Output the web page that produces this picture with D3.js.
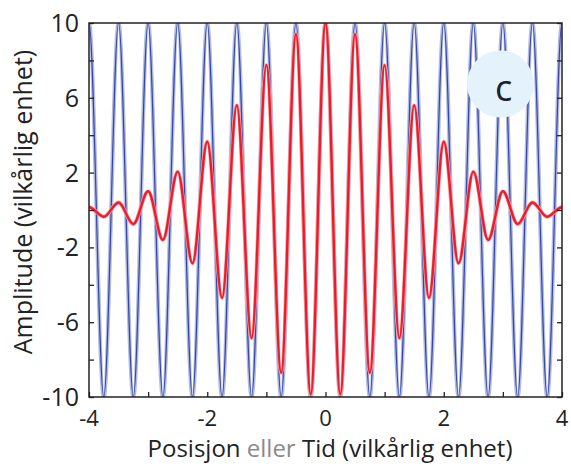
<!DOCTYPE html>
<html>
<head>
<meta charset="utf-8">
<script src="https://cdn.jsdelivr.net/npm/d3@7"></script>
<style>
  body { margin: 0; background: #fff; }
  text { font-family: "Open Sans", "Noto Sans", sans-serif; }
</style>
</head>
<body>
<div id="chart"></div>
<script>
// extrema of the two waves (points just past +-4 are clipped)
var waveX = [-4.25, -4, -3.75, -3.5, -3.25, -3, -2.75, -2.5, -2.25, -2, -1.75, -1.5, -1.25, -1, -0.75, -0.5, -0.25,
             0, 0.25, 0.5, 0.75, 1, 1.25, 1.5, 1.75, 2, 2.25, 2.5, 2.75, 3, 3.25, 3.5, 3.75, 4, 4.25];
var blueY = [-10, 10, -10, 10, -10, 10, -10, 10, -10, 10, -10, 10, -10, 10, -10, 10, -10,
             10, -10, 10, -10, 10, -10, 10, -10, 10, -10, 10, -10, 10, -10, 10, -10, 10, -10];
var redY  = [-0.1, 0.15, -0.36, 0.4, -0.75, 1.0, -1.6, 2.05, -2.85, 3.65, -4.7, 5.6, -6.85, 7.75, -8.7, 9.4, -9.85,
             10, -9.85, 9.4, -8.7, 7.75, -6.85, 5.6, -4.7, 3.65, -2.85, 2.05, -1.6, 1.0, -0.75, 0.4, -0.36, 0.15, -0.1];

var xTicks = [-4, -3, -2, -1, 0, 1, 2, 3, 4];
var xTickLabels = [-4, -2, 0, 2, 4];
var yTicks = [-10, -8, -6, -4, -2, 0, 2, 4, 6, 8, 10];
var yTickLabels = [10, 6, 2, -2, -6, -10];

var margin = {top: 23, right: 9, bottom: 69, left: 89},
    width = 571 - margin.left - margin.right,
    height = 466 - margin.top - margin.bottom;

var svg = d3.select("#chart")
  .append("svg")
    .attr("width", 571)
    .attr("height", 466)
  .append("g")
    .attr("transform", "translate(" + margin.left + "," + margin.top + ")");

var x = d3.scaleLinear().domain([-4, 4]).range([0, width]);
var y = d3.scaleLinear().domain([-10, 10]).range([height, 0]);

svg.append("clipPath").attr("id", "plotClip")
  .append("rect").attr("width", width).attr("height", height);

var blueData = waveX.map(function(d, i) { return {x: d, y: blueY[i]}; });
var redData = waveX.map(function(d, i) { return {x: d, y: redY[i]}; });

var line = d3.line()
  .x(function(d) { return x(d.x); })
  .y(function(d) { return y(d.y); })
  .curve(d3.curveMonotoneX);

var plot = svg.append("g").attr("clip-path", "url(#plotClip)");

// blue carrier: soft halo + dark core
plot.append("path").datum(blueData)
  .attr("fill", "none").attr("stroke", "#b3bce0").attr("stroke-width", 4)
  .attr("d", line);
plot.append("path").datum(blueData)
  .attr("fill", "none").attr("stroke", "#3446a6").attr("stroke-width", 1.2)
  .attr("d", line);

// red wave packet
plot.append("path").datum(redData)
  .attr("fill", "none").attr("stroke", "#f5a0a6").attr("stroke-width", 3.8)
  .attr("d", line);
plot.append("path").datum(redData)
  .attr("fill", "none").attr("stroke", "#ee1c2a").attr("stroke-width", 2.4)
  .attr("d", line);

// label badge
svg.append("circle")
  .attr("cx", 411.5).attr("cy", 61).attr("r", 33.5)
  .attr("fill", "#e4f2fc");
svg.append("text")
  .attr("x", 414.5).attr("y", 78)
  .attr("text-anchor", "middle")
  .attr("font-size", 36)
  .attr("fill", "#1c2030")
  .text("c");

// axes (ticks inward)
svg.append("g")
  .attr("transform", "translate(0," + height + ")")
  .call(d3.axisBottom(x).tickValues(xTicks).tickSize(-5).tickFormat(""))
  .call(function(g) { g.select(".domain").remove(); });
svg.append("g")
  .call(d3.axisLeft(y).tickValues(yTicks).tickSize(-5).tickFormat(""))
  .call(function(g) { g.select(".domain").remove(); });
svg.append("g")
  .attr("transform", "translate(" + width + ",0)")
  .call(d3.axisRight(y).tickValues(yTicks).tickSize(-5).tickFormat(""))
  .call(function(g) { g.select(".domain").remove(); });
svg.selectAll(".tick line").attr("stroke", "#222").attr("stroke-width", 1.3);

svg.append("rect")
  .attr("width", width).attr("height", height)
  .attr("fill", "none").attr("stroke", "#222").attr("stroke-width", 1.5);

// tick labels
svg.selectAll(".xlab").data(xTickLabels).enter().append("text")
  .attr("x", function(d) { return x(d); })
  .attr("y", height + 29)
  .attr("text-anchor", "middle")
  .attr("font-size", 22)
  .attr("fill", "#222")
  .text(function(d) { return d; });
svg.selectAll(".ylab").data(yTickLabels).enter().append("text")
  .attr("x", -10)
  .attr("y", function(d) { return y(d) + 9; })
  .attr("text-anchor", "end")
  .attr("font-size", 25)
  .attr("fill", "#222")
  .text(function(d) { return d; });

// axis titles
var xt = svg.append("text")
  .attr("x", 241)
  .attr("y", height + 60)
  .attr("text-anchor", "middle")
  .attr("font-size", 24)
  .attr("fill", "#222");
xt.append("tspan").text("Posisjon ");
xt.append("tspan").attr("fill", "#8a8a8a").text("eller");
xt.append("tspan").text(" Tid (vilkårlig enhet)");

svg.append("text")
  .attr("transform", "translate(" + (-57) + "," + 179 + ") rotate(-90)")
  .attr("text-anchor", "middle")
  .attr("font-size", 25)
  .attr("fill", "#222")
  .text("Amplitude (vilkårlig enhet)");
</script>
</body>
</html>
